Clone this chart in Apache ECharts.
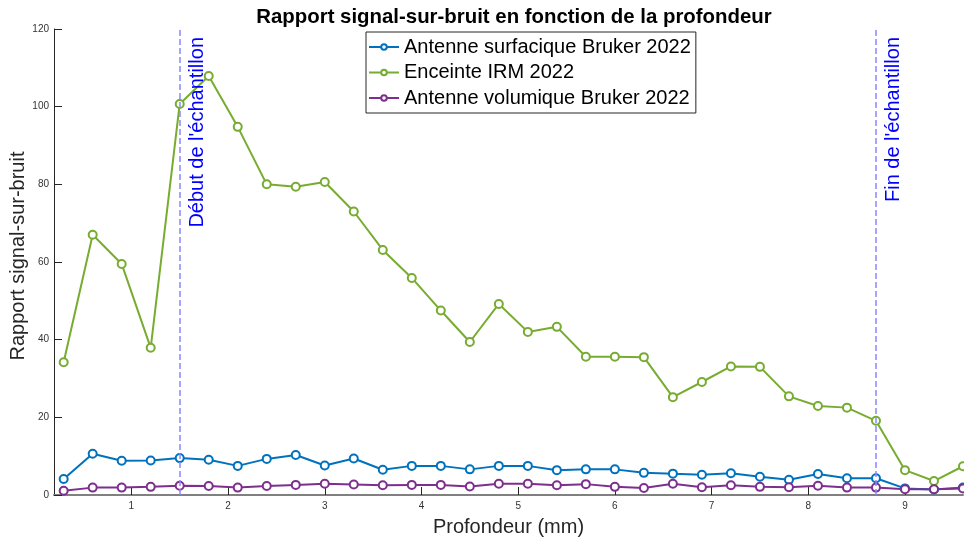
<!DOCTYPE html>
<html>
<head>
<meta charset="utf-8">
<script src="https://cdn.jsdelivr.net/npm/echarts@6/dist/echarts.min.js"></script>
<style>
  html, body { margin: 0; padding: 0; background: #fff; }
  #chart { width: 964px; height: 542px; }
</style>
</head>
<body>
<div id="chart"></div>
<script>
// Profondeur (mm) of each measurement
var depth = [0.3, 0.6, 0.9, 1.2, 1.5, 1.8, 2.1, 2.4, 2.7, 3.0, 3.3, 3.6, 3.9, 4.2, 4.5, 4.8,
             5.1, 5.4, 5.7, 6.0, 6.3, 6.6, 6.9, 7.2, 7.5, 7.8, 8.1, 8.4, 8.7, 9.0, 9.3, 9.6];

// Rapport signal-sur-bruit per setup
var surfacique = [4.1, 10.6, 8.8, 8.9, 9.5, 9.1, 7.5, 9.3, 10.3, 7.6, 9.4, 6.5, 7.5, 7.5, 6.6, 7.5,
                  7.5, 6.4, 6.6, 6.6, 5.7, 5.5, 5.2, 5.6, 4.7, 3.9, 5.4, 4.3, 4.3, 1.7, 1.4, 1.9];
var enceinte = [34.2, 67.0, 59.5, 37.9, 100.7, 107.9, 94.8, 80.0, 79.4, 80.6, 73.0, 63.1, 55.9, 47.5, 39.4, 49.2,
                42.0, 43.3, 35.6, 35.6, 35.5, 25.2, 29.1, 33.1, 33.0, 25.4, 22.9, 22.5, 19.1, 6.4, 3.6, 7.4];
var volumique = [1.1, 1.9, 1.9, 2.1, 2.4, 2.3, 1.9, 2.3, 2.6, 2.9, 2.7, 2.5, 2.6, 2.6, 2.2, 2.9,
                 2.9, 2.5, 2.8, 2.1, 1.8, 2.9, 2.0, 2.5, 2.1, 2.0, 2.4, 1.9, 1.9, 1.5, 1.5, 1.7];

var seriesNames = ['Antenne surfacique Bruker 2022', 'Enceinte IRM 2022', 'Antenne volumique Bruker 2022'];

// Sample boundaries (mm)
var debutEchantillon = 1.5;
var finEchantillon = 8.7;

// Tick labels
var xTicks = [1, 2, 3, 4, 5, 6, 7, 8, 9];
var yTicks = [0, 20, 40, 60, 80, 100, 120];

function pairs(ys) {
  return depth.map(function (d, i) { return [d, ys[i]]; });
}

var FONT = '"Liberation Sans", Arial, Helvetica, sans-serif';
var colors = ['#0072BD', '#77AC30', '#7E2F8E'];

function lineSeries(name, ys, color, extra) {
  var s = {
    name: name,
    type: 'line',
    data: pairs(ys),
    symbol: 'emptyCircle',
    symbolSize: 8,
    showAllSymbol: true,
    clip: false,
    lineStyle: { width: 2, color: color },
    itemStyle: { color: color, borderWidth: 2, borderColor: color },
    emphasis: { disabled: true }
  };
  for (var k in extra) s[k] = extra[k];
  return s;
}

var markLabel = {
  show: true,
  position: 'insideEndBottom',
  distance: 8,
  color: '#0000ff',
  fontSize: 20,
  fontFamily: FONT,
  formatter: function (p) { return p.name; }
};

var chart = echarts.init(document.getElementById('chart'), null, { renderer: 'canvas' });
chart.setOption({
  animation: false,
  backgroundColor: '#ffffff',
  color: colors,
  textStyle: { fontFamily: FONT },
  title: {
    text: 'Rapport signal-sur-bruit en fonction de la profondeur',
    left: 509,
    textAlign: 'center',
    top: 2,
    textStyle: { fontSize: 20.4, fontWeight: 'bold', color: '#000', fontFamily: FONT }
  },
  legend: {
    data: seriesNames,
    orient: 'vertical',
    left: 366,
    top: 32,
    padding: [5, 5, 5, 2],
    itemWidth: 30,
    itemHeight: 7,
    itemGap: 5.5,
    borderColor: '#262626',
    borderWidth: 1,
    backgroundColor: '#fff',
    textStyle: { fontSize: 20, color: '#000', fontFamily: FONT }
  },
  grid: { left: 54, right: 1, top: 29, bottom: 47, containLabel: false, outerBoundsMode: 'none' },
  xAxis: {
    type: 'value',
    min: 0.2,
    max: 9.6,
    name: 'Profondeur (mm)',
    nameLocation: 'middle',
    nameGap: 22,
    nameMoveOverlap: false,
    nameTextStyle: { fontSize: 20, color: '#262626', fontFamily: FONT },
    axisLine: { show: true, lineStyle: { color: '#808080', width: 2 } },
    axisTick: { show: true, inside: true, length: 8, customValues: xTicks, lineStyle: { color: '#262626', width: 1 } },
    axisLabel: { customValues: xTicks, margin: 6, fontSize: 10, color: '#333', fontFamily: FONT },
    splitLine: { show: false }
  },
  yAxis: {
    type: 'value',
    min: 0,
    max: 120,
    interval: 20,
    name: 'Rapport signal-sur-bruit',
    nameLocation: 'middle',
    nameGap: 26,
    nameRotate: 90,
    nameMoveOverlap: false,
    nameTextStyle: { fontSize: 20, color: '#262626', fontFamily: FONT, padding: [0, 0, 0, 12] },
    axisLine: { show: true, lineStyle: { color: '#262626', width: 1 } },
    axisTick: { show: true, inside: true, length: 8, customValues: yTicks, lineStyle: { color: '#262626', width: 1 } },
    axisLabel: { customValues: yTicks, margin: 5, fontSize: 10, color: '#333', fontFamily: FONT },
    splitLine: { show: false }
  },
  series: [
    lineSeries(seriesNames[0], surfacique, colors[0], {
      markLine: {
        silent: true,
        symbol: ['none', 'none'],
        lineStyle: { color: '#8888ff', type: [6, 3], width: 1.5 },
        label: markLabel,
        data: [
          { name: "Début de l'échantillon", xAxis: debutEchantillon },
          { name: "Fin de l'échantillon", xAxis: finEchantillon }
        ]
      }
    }),
    lineSeries(seriesNames[1], enceinte, colors[1], {}),
    lineSeries(seriesNames[2], volumique, colors[2], {})
  ]
});
</script>
</body>
</html>
